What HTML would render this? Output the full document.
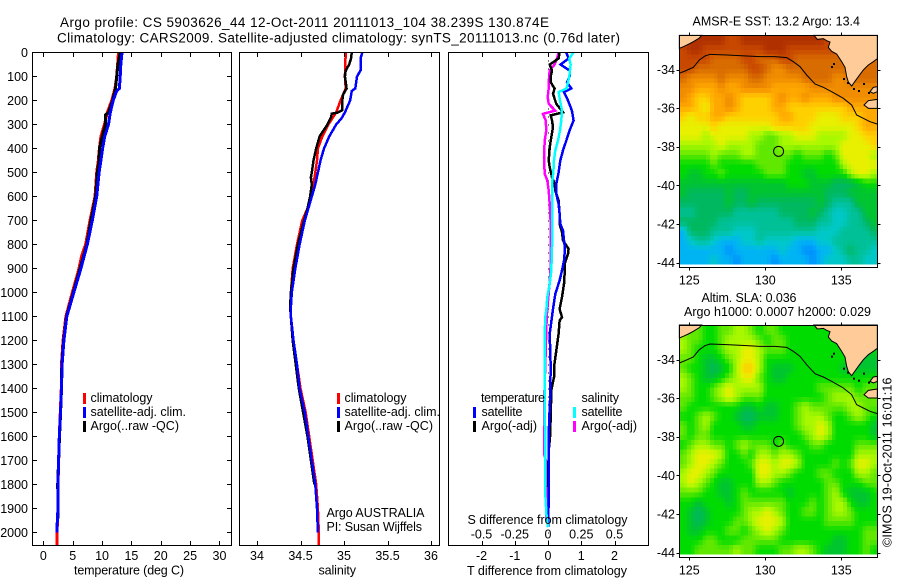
<!DOCTYPE html>
<html lang="en">
<head>
<meta charset="utf-8">
<title>Argo profile 5903626_44</title>
<style>
html,body{margin:0;padding:0;background:#fff;}
svg{display:block;}
text{font-family:"Liberation Sans",Arial,sans-serif;font-size:12.5px;fill:#000;}
.title{font-size:13.5px;}
</style>
</head>
<body>
<svg id="chart" xmlns="http://www.w3.org/2000/svg" width="900" height="580" viewBox="0 0 900 580">
<rect x="0" y="0" width="900" height="580" fill="#fff"/>
<text class="title" x="60" y="27" textLength="489" lengthAdjust="spacing">Argo profile: CS 5903626_44 12-Oct-2011 20111013_104 38.239S 130.874E</text>
<text class="title" x="57" y="42.5" textLength="563" lengthAdjust="spacing">Climatology: CARS2009. Satellite-adjusted climatology: synTS_20111013.nc (0.76d later)</text>
<g id="panels"></g>
<g id="maps"></g>

<text x="74" y="574.5" textLength="110" lengthAdjust="spacing">temperature (deg C)</text>
<text x="318.5" y="574.5" textLength="37.5" lengthAdjust="spacing">salinity</text>
<text x="467" y="575" textLength="160" lengthAdjust="spacing">T difference from climatology</text>
<text x="467.5" y="524" textLength="160" lengthAdjust="spacing">S difference from climatology</text>

<g>
<rect x="83" y="393" width="3" height="11" fill="#ff0000"/>
<rect x="83" y="407" width="3" height="11" fill="#0000ff"/>
<rect x="83" y="421" width="3" height="11" fill="#000"/>
<text x="90.5" y="402" textLength="62" lengthAdjust="spacing">climatology</text>
<text x="90.5" y="416" textLength="95.5" lengthAdjust="spacing">satellite-adj. clim.</text>
<text x="90.5" y="430" textLength="88.5" lengthAdjust="spacing">Argo(..raw -QC)</text>
</g>
<g>
<rect x="337" y="393" width="3" height="11" fill="#ff0000"/>
<rect x="337" y="407" width="3" height="11" fill="#0000ff"/>
<rect x="337" y="421" width="3" height="11" fill="#000"/>
<text x="344.5" y="402" textLength="62" lengthAdjust="spacing">climatology</text>
<text x="344.5" y="416" textLength="95.5" lengthAdjust="spacing">satellite-adj. clim.</text>
<text x="344.5" y="430" textLength="88.5" lengthAdjust="spacing">Argo(..raw -QC)</text>
</g>
<text x="326.5" y="517" textLength="98" lengthAdjust="spacing">Argo AUSTRALIA</text>
<text x="326.5" y="531" textLength="95.5" lengthAdjust="spacing">PI: Susan Wijffels</text>
<g>
<text x="481" y="402" textLength="64" lengthAdjust="spacing">temperature</text>
<rect x="473" y="407" width="3" height="11" fill="#0000ff"/>
<rect x="473" y="421" width="3" height="11" fill="#000"/>
<text x="481.5" y="416" textLength="41" lengthAdjust="spacing">satellite</text>
<text x="481.5" y="430" textLength="55.5" lengthAdjust="spacing">Argo(-adj)</text>
<text x="581.5" y="402" textLength="37.5" lengthAdjust="spacing">salinity</text>
<rect x="573" y="407" width="3" height="11" fill="#00ffff"/>
<rect x="573" y="421" width="3" height="11" fill="#ff00ff"/>
<text x="581.5" y="416" textLength="41" lengthAdjust="spacing">satellite</text>
<text x="581.5" y="430" textLength="55.5" lengthAdjust="spacing">Argo(-adj)</text>
</g>
<text x="692.5" y="25.5" textLength="167.5" lengthAdjust="spacing">AMSR-E SST: 13.2  Argo: 13.4</text>
<text x="701.5" y="302" textLength="95" lengthAdjust="spacing">Altim. SLA: 0.036</text>
<text x="684" y="316" textLength="187" lengthAdjust="spacing">Argo h1000: 0.0007 h2000: 0.029</text>
<text transform="translate(891.5,547) rotate(-90)" x="0" y="0" textLength="169.5" lengthAdjust="spacing">©IMOS 19-Oct-2011 16:01:16</text>
</svg>
<script>
// ---------- profile data ----------
const climTempDepth = [0,100,150,200,250,300,350,400,450,500,600,700,800,850,900,1000,1100,1200,1300,1400,1500,1600,1700,1800,1900,2000,2054];
const climTemp = [12.8,12.5,12.2,11.65,10.9,10.4,9.8,9.55,9.37,9.1,8.8,7.96,7.2,6.5,6.08,4.94,3.85,3.35,3.1,3.07,2.9,2.73,2.62,2.5,2.5,2.33,2.33];
const satTempDepth = [0,50,100,150,160,200,250,300,350,400,450,500,600,700,800,900,1000,1100,1200,1300,1400,1500,1600,1700,1800,1900,1950,2000];
const satTemp = [13.4,13.2,13.1,12.95,12.5,11.9,11.4,11.1,10.45,10.1,9.8,9.5,9.1,8.35,7.5,6.4,5.2,4.0,3.5,3.2,3.1,2.93,2.73,2.6,2.5,2.5,2.38,2.33];
const argoTempDepth = [0,50,100,150,200,250,260,300,350,400,450,500,600,700,800,900,1000,1100,1200,1300,1400,1500,1600,1700,1800,1900,1950];
const argoTemp = [13.1,12.7,12.5,12.3,11.8,11.1,10.6,10.55,10.05,9.55,9.5,9.2,8.9,8.1,7.4,6.25,5.1,3.95,3.45,3.15,3.1,2.95,2.75,2.6,2.45,2.5,2.45];

const climSalDepth = [0,100,150,200,250,300,350,400,450,500,550,600,650,700,800,900,1000,1100,1200,1300,1400,1500,1600,1700,1800,1900,2000,2054];
const climSal = [35.02,35.01,35.02,34.96,34.91,34.82,34.75,34.7,34.69,34.67,34.65,34.61,34.58,34.52,34.46,34.41,34.39,34.39,34.42,34.46,34.5,34.56,34.6,34.64,34.68,34.7,34.71,34.71];
const argoSalDepth = [0,25,50,75,100,150,175,200,240,250,255,270,300,350,400,450,500,520,550,600,650,700,800,900,1000,1060,1200,1400,1600,1800];
const argoSal = [35.09,35.08,35.06,35.02,35.01,35.03,34.99,34.98,34.98,34.93,34.86,34.85,34.81,34.72,34.68,34.65,34.63,34.62,34.63,34.61,34.58,34.54,34.47,34.42,34.39,34.38,34.41,34.48,34.58,34.66];
const satSalDepth = [0,25,75,100,150,160,200,250,275,300,350,400,450,500,550,600,650,700,800,900,1000,1060,1100,1200,1300,1400,1500,1600,1700,1800,1900,2000];
const satSal = [35.21,35.19,35.19,35.15,35.13,35.09,35.07,35.01,34.97,34.91,34.83,34.77,34.73,34.7,34.67,34.63,34.59,34.55,34.49,34.44,34.4,34.39,34.39,34.42,34.46,34.49,34.55,34.59,34.63,34.67,34.69,34.7];

const diffBlueDepth = [0,25,50,75,100,124,150,165,200,242,283,325,367,408,450,500,547,589,631,672,714,742,783,818,867,908,950,1006,1069,1172,1311,1450,1589,1728,1867,1978];
const diffBlueT = [0.55,0.62,0.38,0.65,0.65,0.57,0.7,0.48,0.6,0.72,0.77,0.65,0.55,0.45,0.37,0.32,0.25,0.25,0.32,0.35,0.37,0.45,0.48,0.51,0.48,0.42,0.35,0.22,0.15,0.05,0.08,0.06,0.02,0.02,0.02,0];
const diffBlackDepth = [0,25,50,75,100,124,150,172,193,214,249,262,283,311,353,394,450,478,519,547,575,617,672,714,749,783,818,839,881,922,964,1019,1069,1103,1117,1172,1242,1311,1353,1408,1519,1603,1658,1811];
const diffBlackT = [0.35,0.32,0.05,0.12,0.08,0.08,0.2,0.15,0.2,0.25,0.45,0.08,0.12,0.15,0.1,0.05,0.02,0.05,0.12,0.2,0.22,0.32,0.35,0.35,0.42,0.45,0.62,0.6,0.5,0.5,0.48,0.42,0.35,0.42,0.35,0.32,0.25,0.18,0.18,0.1,0.08,0.06,0.02,0];
const diffMagentaDepth = [0,25,50,75,124,150,186,214,242,256,283,325,367,436,506,533,575,631,728,811,922,1069,1103,1477,1672,1714,1769,1950];
const diffMagentaS = [0.08,0.068,0.05,0.013,0.005,0.005,-0.002,0.005,0.055,-0.038,-0.017,-0.013,-0.025,-0.03,-0.025,-0.005,0.005,0.013,0.022,0.022,0.018,-0.005,-0.01,-0.03,-0.03,-0.008,-0.008,-0.012];
const diffCyanDepth = [0,25,50,100,124,150,165,200,242,283,325,367,408,450,500,547,617,728,811,908,964,1019,1069,1103,1172,1283,1450,1658,1839,1922,1978];
const diffCyanS = [0.19,0.16,0.17,0.16,0.15,0.14,0.08,0.09,0.105,0.1,0.09,0.075,0.055,0.045,0.04,0.03,0.03,0.03,0.03,0.025,0.013,-0.005,-0.012,-0.02,-0.025,-0.025,-0.025,-0.02,-0.02,-0.012,0];

const depthTicks = [0,100,200,300,400,500,600,700,800,900,1000,1100,1200,1300,1400,1500,1600,1700,1800,1900,2000];
const tempTicks = [0,5,10,15,20,25,30];
const salTicks = [34,34.5,35,35.5,36];
const salTickLabels = ['34','34.5','35','35.5','36'];
const tDiffTicks = [-2,-1,0,1,2];
const sDiffTicks = [-0.5,-0.25,0,0.25,0.5];
const sDiffTickLabels = ['-0.5','-0.25','0','0.25','0.5'];
const lonTicks = [125,130,135];
const latTicks = [-34,-36,-38,-40,-42,-44];
const floatLon = 130.874;
const floatLat = -38.239;

// ---------- map data (colour levels on the shared palette) ----------
const sstLevels = [
[15,15,15,15,15,15,14,14,15,15,15,15,15,15,15,15,15,15,15,14,14,14,14,14,14,14],
[14,15,15,14,14,14,14,14,14,14,14,15,15,15,14,14,14,14,14,14,14,14,14,14,14,14],
[14,14,14,14,13,13,13,13,14,14,13,13,13,14,14,13,13,13,13,13,13,13,13,13,13,13],
[14,14,13,13,13,13,13,13,13,14,14,13,12,12,13,13,13,13,13,13,13,13,13,13,13,13],
[13,12,12,12,12,13,12,12,12,13,13,12,12,12,12,12,13,13,13,13,12,12,13,13,13,13],
[12,12,11,11,11,12,11,11,12,12,12,12,11,11,11,11,11,12,12,12,12,12,12,12,12,12],
[12,11,10,10,11,11,12,11,10,10,10,10,11,12,11,11,12,11,11,11,12,12,12,12,12,12],
[11,11,10,9,11,11,12,11,10,10,10,10,11,11,10,10,10,10,10,10,10,10,11,11,11,11],
[10,9,10,10,11,11,10,10,10,10,10,10,10,11,11,10,10,10,9,9,9,10,10,10,11,11],
[9,9,9,9,10,9,9,9,9,9,9,9,10,10,10,10,10,9,9,9,9,9,9,10,11,11],
[9,9,9,8,9,9,9,9,9,8,8,7,7,8,8,9,9,9,8,8,8,8,9,9,10,10],
[8,8,8,8,8,9,8,8,8,8,7,7,7,8,8,8,8,8,8,8,8,9,9,9,9,10],
[7,7,7,7,8,7,7,7,8,8,7,7,7,7,7,6,7,7,7,6,7,9,9,9,9,8],
[6,6,6,6,7,6,6,6,6,6,7,7,7,7,6,6,6,6,6,6,6,8,9,9,9,9],
[6,5,5,6,6,7,6,6,6,6,6,7,7,7,6,6,5,5,6,6,6,6,8,9,9,8],
[5,5,5,5,5,5,5,5,5,5,5,5,5,5,6,6,6,5,5,5,4,4,4,5,6,6],
[5,4,4,4,4,4,5,4,4,5,5,5,5,5,5,5,5,5,5,4,4,4,5,5,5,5],
[4,4,4,4,4,4,5,4,4,5,4,4,4,4,4,4,4,4,5,4,3,3,3,5,5,5],
[3,3,4,4,4,4,4,3,3,3,3,3,3,4,4,4,4,5,4,3,2,2,3,3,5,5],
[4,4,4,4,4,3,3,3,3,3,3,3,3,3,3,4,4,4,3,3,2,2,3,3,4,5],
[1,4,4,4,3,3,3,2,2,2,3,3,3,3,3,3,3,3,2,2,2,3,3,3,3,4],
[1,2,3,3,2,1,1,1,2,2,3,2,2,2,2,1,1,1,2,2,3,3,3,3,3,3],
[1,1,1,1,1,1,0,1,1,1,1,1,1,2,1,1,0,0,1,1,2,3,4,3,3,2],
[1,1,1,1,2,1,1,0,1,1,1,1,0,1,1,1,1,0,1,2,2,2,3,3,2,2]
];
const slaLevels = [
[7,7,7,6,6,7,7,8,8,7,6,7,7,6,6,6,6,6,6,6,6,6,6,6,6,6],
[8,7,7,6,6,7,8,8,8,8,7,6,7,7,6,6,6,6,6,6,6,6,5,6,6,6],
[8,7,6,6,6,7,8,8,9,9,8,7,7,7,6,6,6,6,6,6,6,6,6,5,5,6],
[7,7,6,5,5,6,7,8,9,9,8,6,6,6,6,6,6,6,6,6,6,6,6,5,5,5],
[7,6,6,5,4,5,6,8,10,10,8,6,5,5,5,6,6,6,6,6,6,5,5,5,5,5],
[8,7,6,5,5,6,7,8,9,9,7,6,5,5,6,6,6,6,6,6,6,6,6,6,6,6],
[8,7,6,6,7,8,9,8,8,8,8,6,6,6,6,6,6,6,7,7,7,7,7,6,7,7],
[7,7,6,6,7,8,9,8,7,7,7,6,6,6,6,6,6,6,6,7,8,8,8,7,7,7],
[7,6,6,6,6,6,6,6,5,5,6,5,5,6,6,7,8,7,7,7,7,7,8,8,7,7],
[6,6,7,8,7,6,6,5,4,4,5,5,5,6,6,7,8,8,8,7,6,6,7,8,7,6],
[7,6,7,8,6,6,6,6,5,5,6,6,6,6,6,7,8,8,9,8,6,6,6,6,6,5],
[7,6,7,7,6,6,6,6,6,6,6,6,6,6,6,6,7,8,9,8,6,6,6,6,6,5],
[6,7,8,8,7,7,6,7,8,7,7,7,6,7,6,6,6,7,7,6,6,6,6,7,7,7],
[7,8,9,9,9,8,6,6,7,6,8,8,7,8,8,7,6,6,6,6,6,6,6,8,8,8],
[7,8,9,9,8,7,6,6,6,7,9,9,8,9,9,8,6,6,6,6,7,6,7,9,9,8],
[8,9,9,8,7,6,6,6,6,6,9,9,8,8,7,6,6,6,7,7,6,6,6,8,8,7],
[8,9,8,7,6,5,5,6,6,6,8,8,7,6,6,6,6,6,6,7,7,6,6,6,7,7],
[7,7,7,6,6,5,5,6,7,6,6,6,6,6,5,6,6,6,6,7,8,6,5,5,5,6],
[6,6,5,6,6,6,5,6,7,7,7,7,7,7,6,6,6,7,6,7,8,8,6,5,5,6],
[6,5,4,5,6,6,6,6,7,8,8,9,8,7,6,6,7,7,6,7,8,8,7,6,6,6],
[6,5,4,5,6,6,6,7,7,8,9,9,9,8,6,6,6,6,6,7,7,7,7,6,6,6],
[6,5,5,6,6,6,7,7,6,7,8,9,8,7,6,6,6,6,6,6,6,6,6,6,7,7],
[6,6,6,7,7,6,6,6,7,7,7,7,7,6,6,6,6,6,6,6,5,5,6,6,7,7],
[6,6,7,7,7,7,7,8,7,7,6,6,6,7,7,8,8,7,6,5,5,5,6,6,7,6]
];
const levelColors = ['#0090ff','#00b4f4','#00c8c8','#00c098','#00b860','#00c430','#00dc00','#60e800','#a8f800','#e8f000','#ffd000','#ffa800','#f08c00','#d86c00','#c84800','#b03000'];

// ---------- helpers ----------
const NS = 'http://www.w3.org/2000/svg';
const panelsG = document.getElementById('panels');
const mapsG = document.getElementById('maps');

function make(tag, parent, name, attrs) {
  const el = document.createElementNS(NS, tag);
  
  
  for (const k in attrs) el.setAttribute(k, attrs[k]);
  parent.appendChild(el);
  return el;
}
function label(parent, name, x, y, str, anchor) {
  const t = make('text', parent, name, {x: x, y: y, 'text-anchor': anchor || 'middle'});
  t.textContent = str;
  return t;
}
function tick(parent, name, x1, y1, x2, y2) {
  make('line', parent, name, {x1: x1, y1: y1, x2: x2, y2: y2, stroke: '#000', 'stroke-width': 1, 'shape-rendering': 'crispEdges'});
}

// ---------- profile panel axes ----------
const depthTop = 52.5;
const depthScale = 0.24;
const panelBottom = 545.5;
function yDepth(d) { return depthTop + d * depthScale; }
function xTemp(v) { return 43.3 + v * 5.873; }
function xSal(v) { return 257 + (v - 34) * 87; }
function xTDiff(v) { return 548 + v * 33.25; }
function xSDiff(v) { return 548 + v * 133; }

function frame(parent, name, x, y, w, h) {
  make('rect', parent, name, {x: x, y: y, width: w, height: h, fill: 'none', stroke: '#000', 'stroke-width': 1, 'shape-rendering': 'crispEdges'});
}
function series(parent, name, depths, values, xFn, color, width) {
  const pts = depths.map(function (d, i) { return xFn(values[i]).toFixed(1) + ',' + yDepth(d).toFixed(1); }).join(' ');
  make('polyline', parent, name, {points: pts, fill: 'none', stroke: color, 'stroke-width': width, 'stroke-linejoin': 'miter', 'shape-rendering': 'crispEdges'});
}
function xTicks(parent, values, xFn) {
  values.forEach(function (v) {
    tick(parent, 'x-tick-top', Math.round(xFn(v)) + 0.5, depthTop, Math.round(xFn(v)) + 0.5, depthTop + 4.5);
    tick(parent, 'x-tick-bottom', Math.round(xFn(v)) + 0.5, panelBottom, Math.round(xFn(v)) + 0.5, panelBottom - 4.5);
  });
}

const pT = make('g', panelsG, 'temperature-panel', {});
const pS = make('g', panelsG, 'salinity-panel', {});
const pD = make('g', panelsG, 'difference-panel', {});

// temperature
series(pT, 'temperature-climatology-line', climTempDepth, climTemp, xTemp, '#ff0000', 3);
series(pT, 'temperature-argo-line', argoTempDepth, argoTemp, xTemp, '#000000', 3);
series(pT, 'temperature-satellite-line', satTempDepth, satTemp, xTemp, '#0000ff', 3);
frame(pT, 'temperature-axes-frame', 32.5, 52.5, 199, 493);
xTicks(pT, tempTicks, xTemp);
tempTicks.forEach(function (v) { label(pT, 'temperature-tick-label', xTemp(v), 560, String(v)); });
depthTicks.forEach(function (d) {
  const y = Math.round(yDepth(d) - 0.5) + 0.5;
  tick(pT, 'depth-tick-left', 32.5, y, 37, y);
  tick(pT, 'depth-tick-right', 231.5, y, 227, y);
  label(pT, 'depth-tick-label', 28, yDepth(d) + 4.5, String(d), 'end');
});

// salinity
series(pS, 'salinity-climatology-line', climSalDepth, climSal, xSal, '#ff0000', 2.5);
series(pS, 'salinity-argo-line', argoSalDepth, argoSal, xSal, '#000000', 2.5);
series(pS, 'salinity-satellite-line', satSalDepth, satSal, xSal, '#0000ff', 2.5);
frame(pS, 'salinity-axes-frame', 239.5, 52.5, 200, 493);
xTicks(pS, salTicks, xSal);
salTicks.forEach(function (v, i) { label(pS, 'salinity-tick-label', xSal(v), 560, salTickLabels[i]); });

// differences
make('line', pD, 'zero-difference-line', {x1: 548.5, y1: depthTop, x2: 548.5, y2: panelBottom, stroke: '#000', 'stroke-width': 1, 'stroke-dasharray': '1 7', 'shape-rendering': 'crispEdges'});
series(pD, 'salinity-argo-difference-line', diffMagentaDepth, diffMagentaS, xSDiff, '#ff00ff', 2.5);
series(pD, 'temperature-argo-difference-line', diffBlackDepth, diffBlackT, xTDiff, '#000000', 2.5);
series(pD, 'temperature-satellite-difference-line', diffBlueDepth, diffBlueT, xTDiff, '#0000ff', 2.5);
series(pD, 'salinity-satellite-difference-line', diffCyanDepth, diffCyanS, xSDiff, '#00ffff', 2.5);
frame(pD, 'difference-axes-frame', 448.5, 52.5, 200, 493);
xTicks(pD, tDiffTicks, xTDiff);
tDiffTicks.forEach(function (v) { label(pD, 't-difference-tick-label', xTDiff(v), 560, String(v)); });
sDiffTicks.forEach(function (v, i) { label(pD, 's-difference-tick-label', xSDiff(v), 538.5, sDiffTickLabels[i]); });

// ---------- geography (coordinates on a 3x map grid) ----------
const landLeft = '58,76 125,76 118,84 100,95 85,103 70,110 58,115';
const landRight = '462,76 472,88 490,86 500,92 510,96 505,112 515,124 530,132 545,155 555,172 560,200 565,216 575,228 585,214 595,200 610,180 625,165 640,155 652,146 652,76';
const islandA = '630,245 640,232 652,230 652,245 640,250';
const islandB = '612,285 625,272 652,268 652,295 625,295';
const shelfContour = '58,190 75,183 100,172 118,150 135,138 150,133 200,135 260,138 300,140 345,140 380,143 400,155 420,170 440,195 465,222 490,232 515,245 550,265 575,285 590,315 610,325 630,335 652,342';
const specks = [[519,159],[513,168],[549,204],[561,216],[579,234],[594,240],[609,219],[624,246]];

// palette lookup for a fractional level
function levelColor(v) {
  const i = Math.max(0, Math.min(levelColors.length - 2, Math.floor(v)));
  const f = Math.max(0, Math.min(1, v - i));
  const a = levelColors[i], b = levelColors[i + 1];
  const out = [1, 3, 5].map(function (p) {
    const ca = parseInt(a.substr(p, 2), 16), cb = parseInt(b.substr(p, 2), 16);
    return Math.round(ca + (cb - ca) * f);
  });
  return 'rgb(' + out.join(',') + ')';
}
// smooth display of the gridded field at half-cell resolution
function sampleField(levels, gy, gx) {
  const rows = levels.length, cols = levels[0].length;
  const fy = Math.max(0, Math.min(rows - 1, gy));
  const fx = Math.max(0, Math.min(cols - 1, gx));
  const r0 = Math.floor(fy), c0 = Math.floor(fx);
  const r1 = Math.min(rows - 1, r0 + 1), c1 = Math.min(cols - 1, c0 + 1);
  const ty = fy - r0, tx = fx - c0;
  return (levels[r0][c0] * (1 - tx) + levels[r0][c1] * tx) * (1 - ty) +
         (levels[r1][c0] * (1 - tx) + levels[r1][c1] * tx) * ty;
}

function drawMap(name, levels, top, dataH, geoY) {
  const left = 679.5, width = 198, height = 232;
  const g = make('g', mapsG, name, {});
  const rows = levels.length, cols = levels[0].length;
  const cw = width / cols / 2, ch = dataH / rows / 2;
  const cells = make('g', g, name + '-cells', {'shape-rendering': 'crispEdges'});
  for (let r = 0; r < rows * 2; r++) {
    for (let c = 0; c < cols * 2; c++) {
      const lv = sampleField(levels, (r - 0.5) / 2, (c - 0.5) / 2);
      make('rect', cells, 'map-cell', {x: left + c * cw, y: top + r * ch, width: cw + 0.5, height: ch + 0.5, fill: levelColor(lv)});
    }
  }
  const geo = make('g', g, name + '-geography', {transform: 'translate(660,' + geoY + ') scale(0.33333)'});
  [landLeft, landRight, islandA, islandB].forEach(function (pts) {
    make('polygon', geo, 'land', {points: pts, fill: '#ffcc99', stroke: '#000', 'stroke-width': 3});
  });
  make('polyline', geo, 'bathymetry-contour', {points: shelfContour, fill: 'none', stroke: '#000', 'stroke-width': 3});
  specks.forEach(function (p) {
    make('rect', geo, 'coastal-island', {x: p[0], y: p[1], width: 6, height: 6, fill: '#000'});
  });
  make('rect', g, name + '-bottom-margin', {x: left, y: top + dataH, width: width, height: height - dataH, fill: '#fff'});
  frame(g, name + '-frame', left, top, width, height);
  function xLon(v) { return 689.3 + (v - 125) * 15.2; }
  function yLat(v) { return top + 34 + (-34 - v) * 19.3; }
  lonTicks.forEach(function (v) {
    const x = Math.round(xLon(v)) + 0.5;
    tick(g, 'longitude-tick-top', x, top, x, top - 3);
    tick(g, 'longitude-tick-bottom', x, top + height, x, top + height + 3);
    label(g, 'longitude-tick-label', xLon(v), top + height + 17, String(v));
  });
  latTicks.forEach(function (v) {
    const y = Math.round(yLat(v)) + 0.5;
    tick(g, 'latitude-tick-left', left, y, left - 3, y);
    tick(g, 'latitude-tick-right', left + width, y, left + width + 3, y);
    label(g, 'latitude-tick-label', 675, yLat(v) + 4.5, String(v), 'end');
  });
  make('circle', g, name + '-float-position', {cx: xLon(floatLon), cy: yLat(floatLat), r: 5, fill: 'none', stroke: '#000', 'stroke-width': 1});
}
drawMap('sst-map', sstLevels, 35.5, 229, 10);
drawMap('sla-map', slaLevels, 325.5, 229, 299.67);
</script>
</body>
</html>
